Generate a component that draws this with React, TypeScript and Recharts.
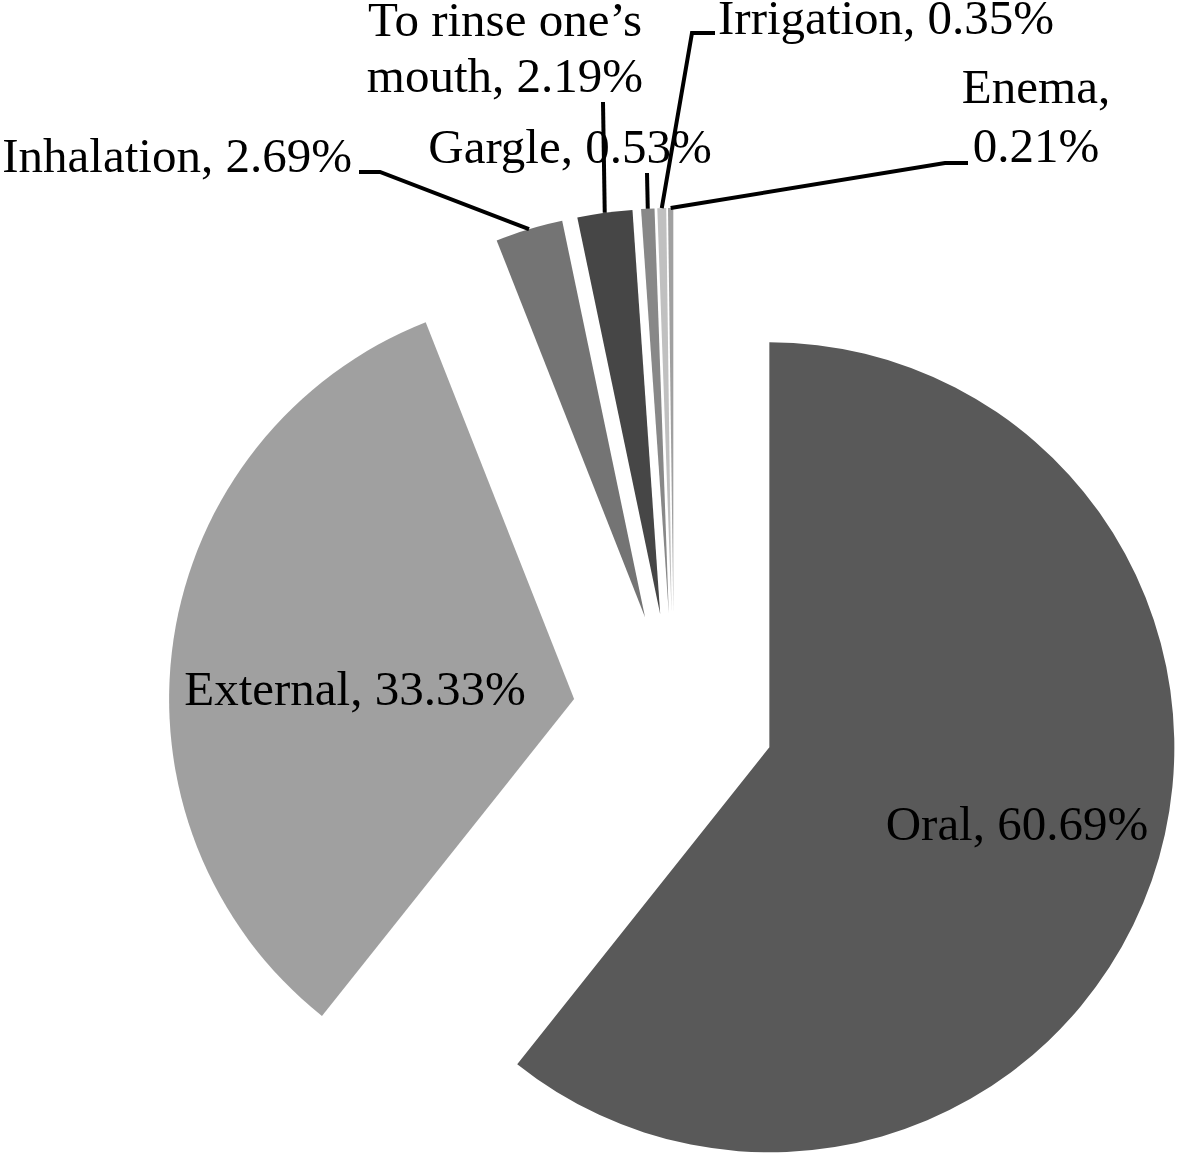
import React from 'react';
import { PieChart, Pie, Cell } from 'recharts';

// ---- data ----
const CATEGORIES = ['Oral', 'External', 'Inhalation', 'To rinse one\u2019s mouth', 'Gargle', 'Irrigation', 'Enema'];
const VALUES = [60.69, 33.33, 2.69, 2.19, 0.53, 0.35, 0.21];
const COLORS = ['#595959', '#a0a0a0', '#747474', '#464646', '#888888', '#c0c0c0', '#a0a0a0'];

// ---- layout (not data) ----
const W = 1181;
const H = 1159;
const CX = 674;
const CY = 714;
const R = 405;
const EXPLODE = 101;
const RAD = Math.PI / 180;
const FONT = '"Liberation Serif", "Times New Roman", serif';
const FS = 49;

type Layout = {
  x: number;
  y: number;
  anchor: 'start' | 'middle' | 'end';
  wrap?: number;
  lineH?: number;
  leader?: [number, number][];
};

const LABEL_LAYOUT: Layout[] = [
  { x: 1017, y: 840, anchor: 'middle' },
  { x: 355, y: 705, anchor: 'middle' },
  { x: 352, y: 172, anchor: 'end', leader: [[359, 172], [380, 172]] },
  { x: 505, y: 36, anchor: 'middle', wrap: 3, lineH: 56, leader: [[603, 102]] },
  { x: 570, y: 163, anchor: 'middle', leader: [[647, 173]] },
  { x: 718, y: 34, anchor: 'start', leader: [[715, 33], [692, 33]] },
  { x: 1036, y: 103, anchor: 'middle', wrap: 1, lineH: 59, leader: [[968, 163], [945, 163]] },
];

const data = CATEGORIES.map((name, i) => ({ name, value: VALUES[i] }));
const total = VALUES.reduce((a, b) => a + b, 0);
const mids: number[] = [];
{
  let acc = 0;
  VALUES.forEach((v) => {
    const s = acc;
    acc += v;
    mids.push(90 - (360 * ((s + acc) / 2)) / total);
  });
}

function renderLabel(i: number, px: number, py: number) {
  const lay = LABEL_LAYOUT[i];
  const full = `${CATEGORIES[i]}, ${VALUES[i].toFixed(2)}%`;
  let lines = [full];
  if (lay.wrap) {
    const words = full.split(' ');
    lines = [words.slice(0, lay.wrap).join(' '), words.slice(lay.wrap).join(' ')];
  }
  const ex = px + R * Math.cos(mids[i] * RAD);
  const ey = py - R * Math.sin(mids[i] * RAD);
  const pts = lay.leader ? [...lay.leader, [ex, ey]] : null;
  return (
    <g key={`lbl-${i}`}>
      {pts && (
        <polyline
          points={pts.map((p) => p.join(',')).join(' ')}
          fill="none"
          stroke="#000"
          strokeWidth={4}
        />
      )}
      {lines.map((t, k) => (
        <text
          key={k}
          x={lay.x}
          y={lay.y + k * (lay.lineH || 0)}
          textAnchor={lay.anchor}
          fontFamily={FONT}
          fontSize={FS}
          fill="#000"
        >
          {t}
        </text>
      ))}
    </g>
  );
}

export default function App() {
  return (
    <div style={{ position: 'absolute', left: 0, top: 0, width: W, height: H, background: '#fff' }}>
      <PieChart width={W} height={H} margin={{ top: 0, right: 0, bottom: 0, left: 0 }}>
        {data.map((d, i) => {
          const px = CX + EXPLODE * Math.cos(mids[i] * RAD);
          const py = CY - EXPLODE * Math.sin(mids[i] * RAD);
          return (
            <Pie
              key={d.name}
              data={data}
              dataKey="value"
              nameKey="name"
              cx={px}
              cy={py}
              innerRadius={0}
              outerRadius={R}
              startAngle={90}
              endAngle={-270}
              stroke="none"
              isAnimationActive={false}
              labelLine={false}
              label={(p: any) => (p.index === i ? renderLabel(i, px, py) : null)}
            >
              {data.map((_, j) => (
                <Cell key={j} fill={j === i ? COLORS[j] : 'none'} stroke="none" />
              ))}
            </Pie>
          );
        })}
      </PieChart>
    </div>
  );
}
